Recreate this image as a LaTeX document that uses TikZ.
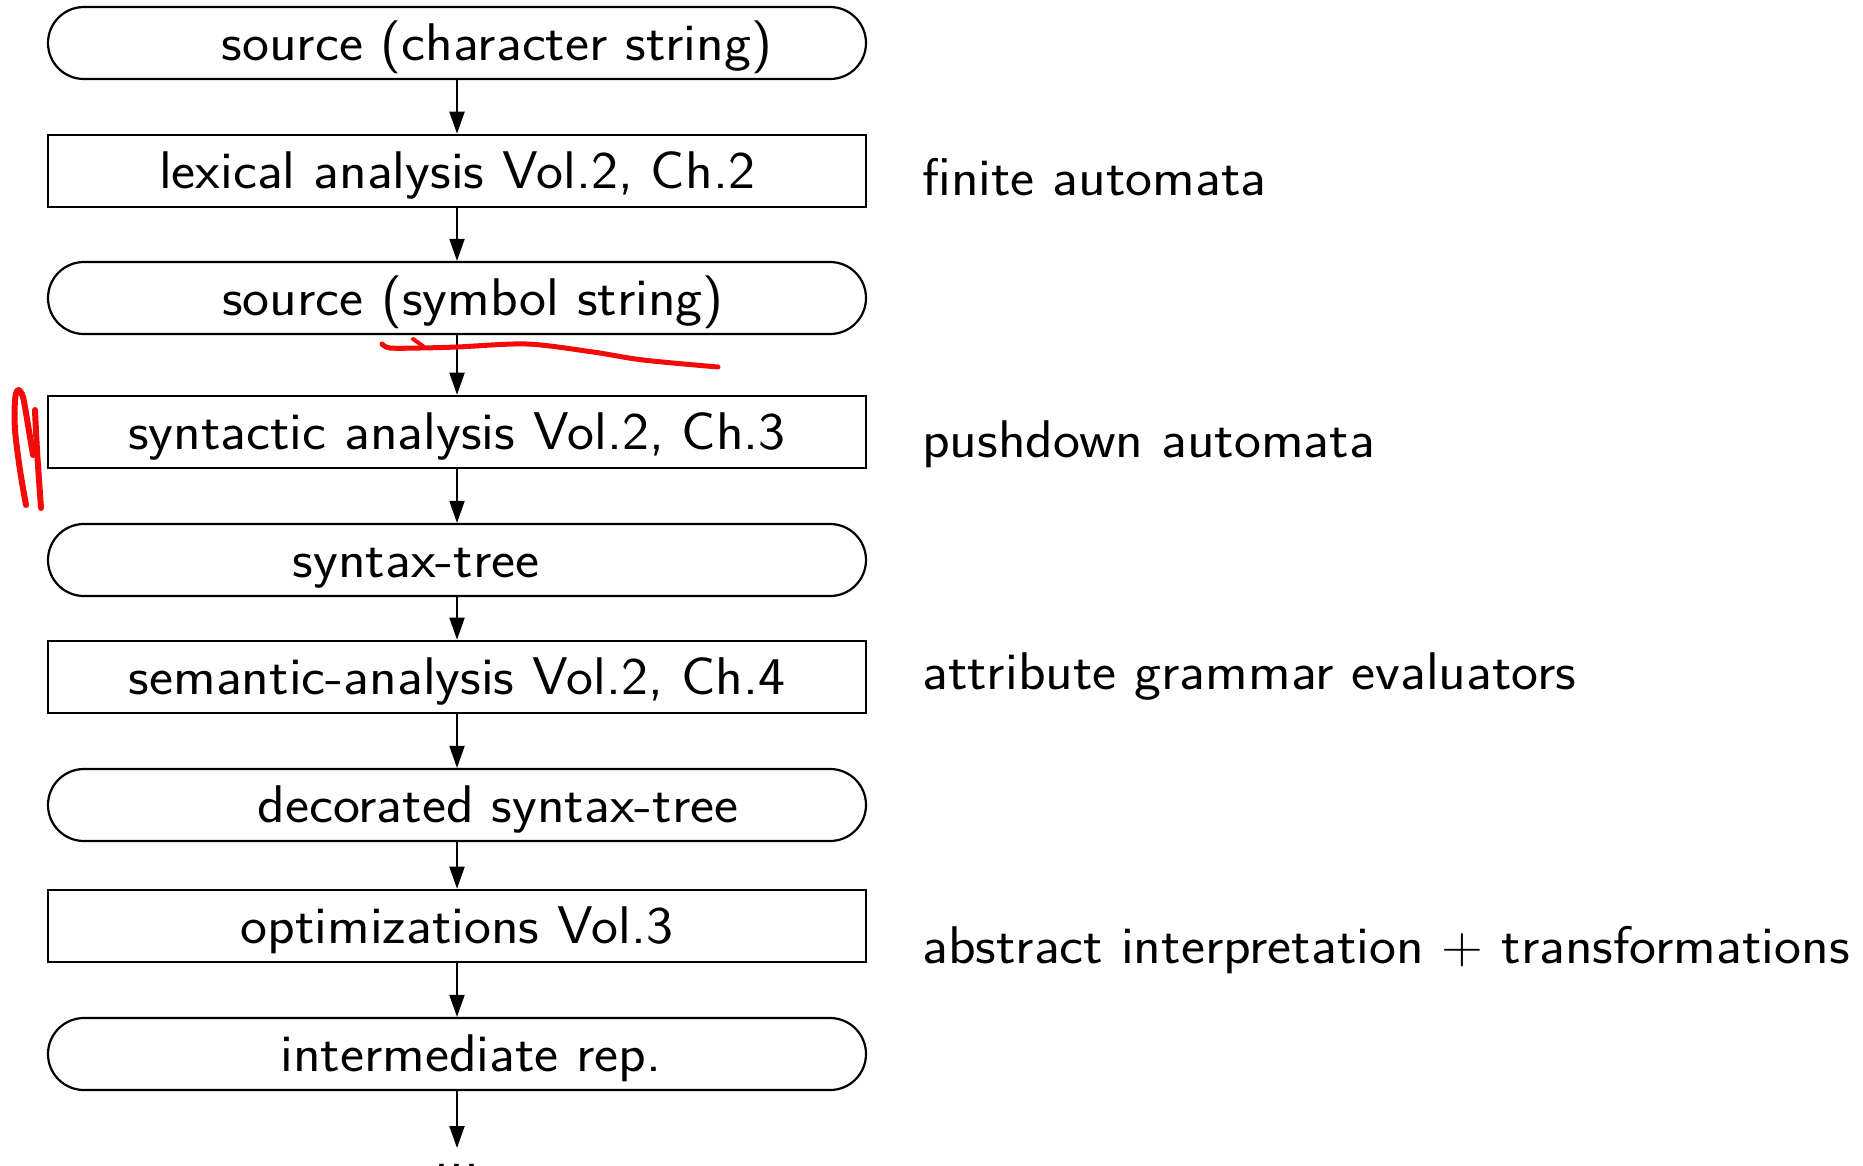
\documentclass[tikz,border=0pt]{standalone}
\usepackage{fontspec}
\setsansfont{Latin Modern Sans}[FakeStretch=1.08]
\usetikzlibrary{shapes.misc,arrows.meta}
\usepackage{xcolor}
\definecolor{penred}{rgb}{0.96,0.04,0.04}

\tikzset{
  stage/.style={draw,line width=2.6pt,minimum width=818pt,minimum height=72pt,
    inner sep=0pt,text height=48pt,text depth=14pt},
  datum/.style={stage,rounded rectangle,line width=2.2pt},
  lbl/.style={inner sep=0pt,text height=48pt,text depth=14pt},
  flow/.style={line width=2pt,-{Triangle[length=22pt,width=15pt]}},
  note/.style={anchor=base west,inner sep=0pt},
}

\begin{document}
\begin{tikzpicture}[x=1pt,y=-1pt,font=\fontsize{53}{60}\selectfont\sffamily]
    \useasboundingbox (0,0) rectangle (1863,1165);

    % phases (square) and what they hand on (round)
    \node[datum,label={[lbl,xshift=40pt]center:source (character string)}] (chars) at (457,43) {};
    \node[stage] (lex) at (457,171) {lexical analysis Vol.2, Ch.2};
    \node[datum,label={[lbl,xshift=16pt]center:source (symbol string)}] (syms) at (457,298) {};
    \node[stage] (parse) at (457,432) {syntactic analysis Vol.2, Ch.3};
    \node[datum,label={[lbl,xshift=-41pt]center:syntax-tree}] (tree) at (457,560) {};
    \node[stage] (sema) at (457,677) {semantic-analysis Vol.2, Ch.4};
    \node[datum,label={[lbl,xshift=41pt]center:decorated syntax-tree}] (dtree) at (457,805) {};
    \node[stage] (opt) at (457,926) {optimizations Vol.3};
    \node[datum,label={[lbl,xshift=14pt]center:intermediate rep.}] (ir) at (457,1054) {};
    \coordinate (next) at (457,1148);
    \node[anchor=base,inner sep=0pt] (more) at (457,1168) {...};

    \draw[flow] (chars) -- (lex);
    \draw[flow] (lex) -- (syms);
    \draw[flow] (syms) -- (parse);
    \draw[flow] (parse) -- (tree);
    \draw[flow] (tree) -- (sema);
    \draw[flow] (sema) -- (dtree);
    \draw[flow] (dtree) -- (opt);
    \draw[flow] (opt) -- (ir);
    \draw[flow] (ir) -- (next);

    % techniques for each phase
    \node[note] (fa) at (922,195) {finite automata};
    \node[note] (pda) at (922,457) {pushdown automata};
    \node[note] (age) at (922,689) {attribute grammar evaluators};
    \node[note] (ai) at (922,963) {abstract interpretation + transformations};

    % pen marks
    \draw[penred,line width=5pt,line cap=round,line join=round] plot[smooth] coordinates
        {(382,344) (390,348) (420,348) (457,347) (527,344) (593,352) (643,360) (718,367)};
    \draw[penred,line width=4pt,line cap=round] (413,339) -- (423,346);
    \draw[penred,line width=6pt,line cap=round,line join=round] plot[smooth] coordinates
        {(26,505) (20,470) (15,430) (15,400) (18,390) (23,397) (28,425) (33,455)};
    \draw[penred,line width=6pt,line cap=round] plot[smooth] coordinates
        {(35,410) (37,450) (41,508)};

\end{tikzpicture}
\end{document}
